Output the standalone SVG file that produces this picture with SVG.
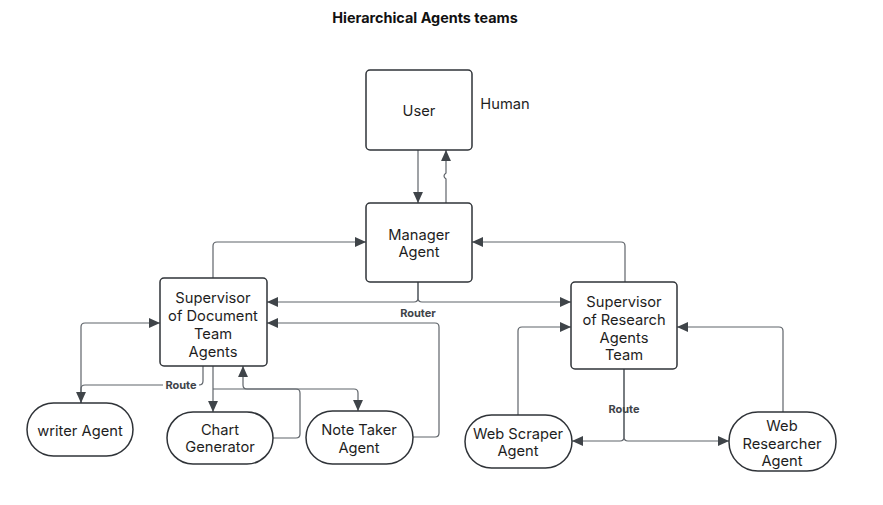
<svg xmlns="http://www.w3.org/2000/svg" width="883" height="505" viewBox="0 0 883 505">
<defs>
<marker id="ah" markerUnits="userSpaceOnUse" markerWidth="11" markerHeight="11" viewBox="0 0 10 10" refX="10" refY="5" orient="auto">
<path d="M0,0.5 L10,5 L0,9.5 z" fill="#3f4449"/>
</marker>
<style>
.box{fill:#fff;stroke:#2f3338;stroke-width:1.5}
.t{font-family:Inter,"Liberation Sans",sans-serif;font-size:14.7px;fill:#1e1e1e;text-anchor:middle;dominant-baseline:central}
.c{fill:none;stroke:#5f646a;stroke-width:1.2;marker-end:url(#ah)}
.lbl{font-family:Inter,"Liberation Sans",sans-serif;font-size:11px;font-weight:bold;fill:#3f4449;text-anchor:middle;dominant-baseline:central}
</style>
</defs>
<rect width="883" height="505" fill="#fff"/>
<text x="425" y="17" font-family="Inter,'Liberation Sans',sans-serif" font-size="14.4" font-weight="bold" fill="#111" text-anchor="middle" dominant-baseline="central">Hierarchical Agents teams</text>

<g id="connectors">
<path class="c" d="M418,150 V203"/>
<path class="c" d="M446,203 V179 Q442,176 446,173 V150"/>
<path class="c" d="M213,278 V246 Q213,242 217,242 H366"/>
<path class="c" d="M625,282 V246 Q625,242 621,242 H472"/>
<path class="c" d="M418,282 V298 Q418,302 414,302 H267"/>
<path class="c" d="M418,282 V298 Q418,302 422,302 H571"/>
<path class="c" d="M81,403 V327 Q81,323 85,323 H160"/>
<path class="c" d="M203,366 V381 Q203,385 199,385 H85 Q81,385 81,389 V403"/>
<path class="c" d="M213,366 V412"/>
<path class="c" d="M273,438 H296 Q300,438 300,434 V393 Q300,389 296,389 H247 Q243,389 243,385 V366"/>
<path class="c" d="M213,389 H354 Q358,389 358,393 V411"/>
<path class="c" d="M413,437 H435 Q439,437 439,433 V327 Q439,323 435,323 H267"/>
<path class="c" d="M624,369 V437 Q624,441 620,441 H572"/>
<path class="c" d="M624,369 V437 Q624,441 628,441 H729"/>
<path class="c" d="M518,415 V331 Q518,327 522,327 H571"/>
<path class="c" d="M783,412 V331 Q783,327 779,327 H677"/>
<text class="lbl" x="418" y="313">Router</text>
<rect x="163" y="379" width="36" height="12" fill="#fff"/>
<text class="lbl" x="181" y="385">Route</text>
<text class="lbl" x="624" y="409">Route</text>
</g>

<g id="user">
<rect class="box" x="366" y="70" width="106" height="80" rx="4"/>
<text class="t" x="419" y="111">User</text>
</g>
<text class="t" x="505" y="104">Human</text>

<g id="manager">
<rect class="box" x="366" y="203" width="106" height="79" rx="4"/>
<text class="t" x="419" y="235">Manager</text>
<text class="t" x="419" y="252">Agent</text>
</g>

<g id="supdoc">
<rect class="box" x="160" y="278" width="107" height="88" rx="4"/>
<text class="t" x="213" y="298">Supervisor</text>
<text class="t" x="213" y="316">of Document</text>
<text class="t" x="213" y="334">Team</text>
<text class="t" x="213" y="352">Agents</text>
</g>

<g id="supres">
<rect class="box" x="571" y="282" width="106" height="87" rx="4"/>
<text class="t" x="624" y="302">Supervisor</text>
<text class="t" x="624" y="320">of Research</text>
<text class="t" x="624" y="338">Agents</text>
<text class="t" x="624" y="355">Team</text>
</g>

<g id="writer">
<rect class="box" x="27" y="403" width="106" height="53" rx="26.5"/>
<text class="t" x="80" y="431">writer Agent</text>
</g>

<g id="chart">
<rect class="box" x="167" y="412" width="106" height="52" rx="26"/>
<text class="t" x="220" y="430">Chart</text>
<text class="t" x="220" y="447">Generator</text>
</g>

<g id="note">
<rect class="box" x="306" y="411" width="107" height="53" rx="26.5"/>
<text class="t" x="359" y="430">Note Taker</text>
<text class="t" x="359" y="448">Agent</text>
</g>

<g id="scraper">
<rect class="box" x="465" y="415" width="107" height="53" rx="26.5"/>
<text class="t" x="518" y="434">Web Scraper</text>
<text class="t" x="518" y="451">Agent</text>
</g>

<g id="researcher">
<rect class="box" x="729" y="412" width="107" height="59" rx="29"/>
<text class="t" x="782" y="426">Web</text>
<text class="t" x="782" y="444">Researcher</text>
<text class="t" x="782" y="461">Agent</text>
</g>
</svg>
